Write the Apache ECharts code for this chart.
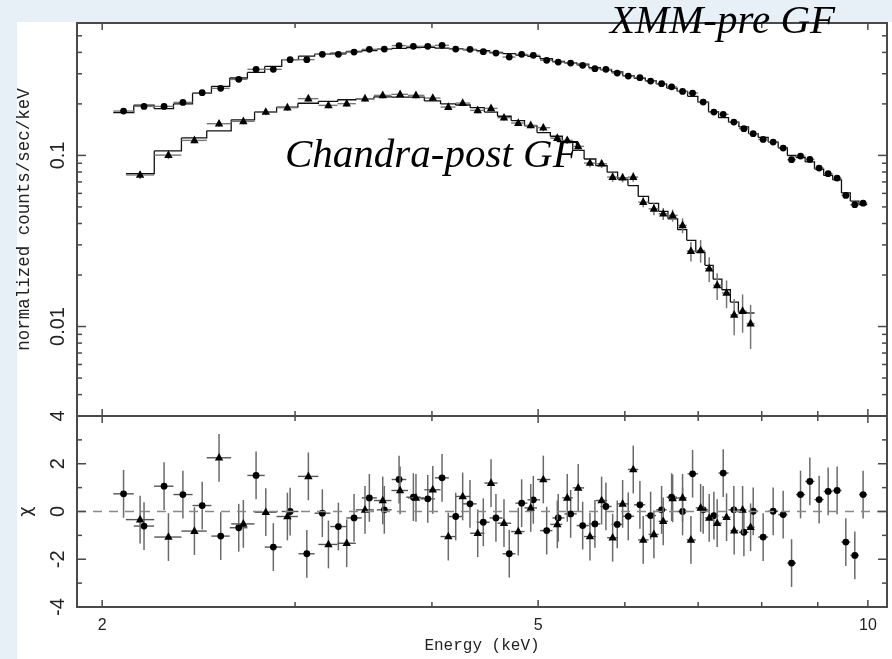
<!DOCTYPE html>
<html><head><meta charset="utf-8">
<script src="https://cdn.jsdelivr.net/npm/echarts@6/dist/echarts.min.js"></script>
<style>
html,body{margin:0;padding:0;background:#e8f0f7;width:892px;height:659px;overflow:hidden;}
#paper{position:absolute;left:17px;top:22px;width:875px;height:637px;background:#fff;}
#chart{position:absolute;left:0;top:0;width:892px;height:659px;}
</style></head><body>
<div id="paper"></div><div id="chart"></div>
<script>
// ---------- data ----------
const xmmEnergy = [2.092,2.184,2.278,2.370,2.468,2.566,2.665,2.764,2.866,2.969,
  3.075,3.177,3.286,3.396,3.507,3.619,3.733,3.847,3.965,4.086,
  4.205,4.333,4.456,4.576,4.706,4.830,4.950,5.091,5.216,5.354,
  5.491,5.634,5.766,5.905,6.043,6.193,6.334,6.482,6.620,6.774,
  6.918,7.074,7.235,7.378,7.545,7.706,7.858,8.024,8.195,8.369,
  8.518,8.680,8.852,9.026,9.199,9.374,9.547,9.729,9.900];
const xmmFlux = [0.1816,0.1934,0.1934,0.2041,0.2326,0.2465,0.2782,0.3184,0.3184,0.3628,
  0.3628,0.3896,0.3896,0.4019,0.4168,0.4184,0.4381,0.4340,0.4340,0.4398,
  0.4184,0.4168,0.4040,0.3965,0.3757,0.3896,0.3844,0.3594,0.3512,0.3465,
  0.3360,0.3214,0.3184,0.3029,0.2909,0.2847,0.2719,0.2626,0.2515,0.2367,
  0.2314,0.2050,0.1792,0.1737,0.1566,0.1433,0.1339,0.1240,0.1196,0.1103,
  0.0944,0.0991,0.0948,0.0843,0.0782,0.0737,0.0584,0.0515,0.0526];
const xmmFluxErr = [0.0049,0.0052,0.0052,0.0055,0.0063,0.0067,0.0075,0.0086,0.0086,0.0098,
  0.0098,0.0105,0.0105,0.0109,0.0113,0.0113,0.0118,0.0117,0.0117,0.0119,
  0.0113,0.0113,0.0109,0.0107,0.0101,0.0105,0.0104,0.0097,0.0095,0.0094,
  0.0091,0.0087,0.0086,0.0082,0.0079,0.0077,0.0073,0.0071,0.0068,0.0064,
  0.0062,0.0055,0.0048,0.0047,0.0042,0.0039,0.0036,0.0033,0.0032,0.0030,
  0.0028,0.0029,0.0028,0.0025,0.0024,0.0023,0.0019,0.0018,0.0018];
const xmmModel = [0.1780,0.1966,0.1879,0.2002,0.2310,0.2534,0.2833,0.3054,0.3312,0.3628,
  0.3801,0.3903,0.3962,0.4048,0.4104,0.4176,0.4222,0.4270,0.4278,0.4231,
  0.4208,0.4132,0.4089,0.3994,0.3937,0.3859,0.3793,0.3672,0.3538,0.3474,
  0.3414,0.3259,0.3166,0.3073,0.2925,0.2825,0.2731,0.2621,0.2474,0.2367,
  0.2215,0.2046,0.1800,0.1661,0.1563,0.1467,0.1339,0.1276,0.1196,0.1107,
  0.0999,0.0972,0.0916,0.0832,0.0764,0.0720,0.0604,0.0541,0.0516];
const xmmChi = [0.74,-0.61,1.06,0.71,0.25,-1.03,-0.68,1.51,-1.49,0.00,
  -1.77,-0.07,-0.63,-0.27,0.57,0.07,1.34,0.60,0.53,1.41,
  -0.21,0.32,-0.45,-0.27,-1.77,0.35,0.49,-0.80,-0.27,-0.10,
  -0.59,-0.52,0.21,-0.54,-0.20,0.28,-0.17,0.07,0.60,0.00,
  1.58,0.07,-0.17,1.61,0.07,-0.87,0.01,-1.07,0.01,-0.13,
  -2.16,0.71,1.26,0.50,0.84,0.88,-1.28,-1.84,0.71];

const chandraEnergy = [2.166,2.299,2.428,2.557,2.691,2.821,2.952,3.085,3.218,3.344,
  3.475,3.607,3.741,3.868,4.007,4.140,4.267,4.404,4.529,4.654,
  4.796,4.923,5.055,5.206,5.316,5.440,5.576,5.714,5.848,5.972,
  6.107,6.236,6.378,6.504,6.634,6.774,6.894,7.036,7.164,7.285,
  7.430,7.550,7.685,7.815];
const chandraFlux = [0.0769,0.1004,0.1224,0.1532,0.1581,0.1792,0.1901,0.2146,0.1961,0.2006,
  0.2146,0.2243,0.2274,0.2243,0.2163,0.1916,0.2022,0.1833,0.1883,0.1661,
  0.1545,0.1498,0.1452,0.1262,0.1224,0.1129,0.0902,0.0894,0.0747,0.0741,
  0.0747,0.0533,0.0487,0.0456,0.0446,0.0390,0.0276,0.0278,0.0218,0.0174,
  0.0157,0.0117,0.0123,0.0104];
const chandraFluxErr = [0.0042,0.0054,0.0050,0.0062,0.0064,0.0073,0.0077,0.0087,0.0080,0.0082,
  0.0087,0.0091,0.0093,0.0091,0.0088,0.0078,0.0082,0.0075,0.0077,0.0068,
  0.0063,0.0061,0.0069,0.0060,0.0058,0.0061,0.0049,0.0049,0.0046,0.0045,
  0.0046,0.0036,0.0040,0.0037,0.0036,0.0039,0.0036,0.0042,0.0036,0.0031,
  0.0029,0.0028,0.0031,0.0030];
const chandraModel = [0.0783,0.1062,0.1265,0.1392,0.1614,0.1794,0.1917,0.2018,0.2071,0.2115,
  0.2140,0.2201,0.2192,0.2191,0.2083,0.1998,0.1970,0.1901,0.1791,0.1694,
  0.1598,0.1489,0.1360,0.1294,0.1191,0.1069,0.0953,0.0871,0.0798,0.0727,
  0.0666,0.0576,0.0525,0.0471,0.0426,0.0368,0.0319,0.0272,0.0228,0.0189,
  0.0164,0.0139,0.0121,0.0120];
const chandraChi = [-0.34,-1.07,-0.82,2.25,-0.52,-0.03,-0.21,1.47,-1.38,-1.33,
  0.07,0.46,0.88,0.57,0.91,-1.05,0.63,-0.91,1.19,-0.49,
  -0.84,0.15,1.34,-0.54,0.57,0.99,-1.05,0.46,-1.10,0.32,
  1.76,-1.19,-0.96,-0.41,0.55,0.57,-1.19,0.15,-0.27,-0.49,
  -0.24,-0.80,0.07,-0.66];

const energyTickLabels = [2, 5, 10];
const energyMinorTicks = [3, 4, 6, 7, 8, 9];
const fluxTickLabels = [0.01, 0.1];
const fluxMinorTicks = [0.004,0.005,0.006,0.007,0.008,0.009,0.02,0.03,0.04,0.05,0.06,0.07,0.08,0.09,0.2,0.3,0.4,0.5];
const chiTickLabels = [-4, -2, 0, 2, 4];
const chiMinorTicks = [-3, -1, 1, 3];

// ---------- helpers ----------
function binEdges(c){
  const lo=[],hi=[];
  for(let i=0;i<c.length;i++){
    lo.push(i>0?Math.sqrt(c[i-1]*c[i]):c[0]/Math.sqrt(c[1]/c[0]));
    hi.push(i<c.length-1?Math.sqrt(c[i]*c[i+1]):c[i]*Math.sqrt(c[i]/c[i-1]));
  }
  return {lo,hi};
}
const xmmBins = binEdges(xmmEnergy);
const chaBins = binEdges(chandraEnergy);

const FRAME = '#4a4a4a';
function marker(kind,x,y){
  if(kind==='circle') return {type:'circle',shape:{cx:x,cy:y,r:3.4},style:{fill:'#000'}};
  return {type:'polygon',shape:{points:[[x,y-4.8],[x-4.2,y+2.8],[x+4.2,y+2.8]]},style:{fill:'#000'}};
}
function pointRenderer(kind,hColor,vColor){
  return function(params,api){
    const e=api.value(0),v=api.value(1),lo=api.value(2),hi=api.value(3),er=api.value(4);
    const c=api.coord([e,v]),l=api.coord([lo,v]),h=api.coord([hi,v]);
    const t=api.coord([e,v+er]),b=api.coord([e,v-er]);
    return {type:'group',children:[
      {type:'line',shape:{x1:l[0],y1:c[1],x2:h[0],y2:c[1]},style:{stroke:hColor,lineWidth:1.4}},
      {type:'line',shape:{x1:c[0],y1:t[1],x2:c[0],y2:b[1]},style:{stroke:vColor,lineWidth:1.5}},
      marker(kind,c[0],c[1])
    ]};
  };
}
function stepRenderer(params,api){
  const lo=api.value(0),hi=api.value(1),m=api.value(2),mn=api.value(3);
  const a=api.coord([lo,m]),b=api.coord([hi,m]),d=api.coord([hi,mn]);
  return {type:'polyline',shape:{points:[a,b,d]},style:{stroke:'#111',lineWidth:1.3,fill:null}};
}
function xTickRenderer(len,refY){
  return function(params,api){
    const cs=params.coordSys;
    const x=api.coord([api.value(0),refY])[0];
    const top=cs.y,bot=cs.y+cs.height;
    return {type:'group',children:[
      {type:'line',shape:{x1:x,y1:bot,x2:x,y2:bot-len},style:{stroke:FRAME,lineWidth:1.5}},
      {type:'line',shape:{x1:x,y1:top,x2:x,y2:top+len},style:{stroke:FRAME,lineWidth:1.5}}
    ]};
  };
}
function yTickRenderer(len,refX){
  return function(params,api){
    const cs=params.coordSys;
    const y=api.coord([refX,api.value(1)])[1];
    const left=cs.x,right=cs.x+cs.width;
    return {type:'group',children:[
      {type:'line',shape:{x1:left,y1:y,x2:left+len,y2:y},style:{stroke:FRAME,lineWidth:1.5}},
      {type:'line',shape:{x1:right,y1:y,x2:right-len,y2:y},style:{stroke:FRAME,lineWidth:1.5}}
    ]};
  };
}
function tickSeries(grid,arr,isX,len,ref){
  return {type:'custom',xAxisIndex:grid,yAxisIndex:grid,silent:true,z:5,
    data:arr.map(v=>isX?[v,ref]:[ref,v]),
    renderItem:isX?xTickRenderer(len,ref):yTickRenderer(len,ref)};
}

const xmmTop = xmmEnergy.map((e,i)=>[e,xmmFlux[i],xmmBins.lo[i],xmmBins.hi[i],xmmFluxErr[i]]);
const chaTop = chandraEnergy.map((e,i)=>[e,chandraFlux[i],chaBins.lo[i],chaBins.hi[i],chandraFluxErr[i]]);
const xmmStep = xmmEnergy.map((e,i)=>[xmmBins.lo[i],xmmBins.hi[i],xmmModel[i],i<xmmModel.length-1?xmmModel[i+1]:xmmModel[i]]);
const chaStep = chandraEnergy.map((e,i)=>[chaBins.lo[i],chaBins.hi[i],chandraModel[i],i<chandraModel.length-1?chandraModel[i+1]:chandraModel[i]]);
const xmmRes = xmmEnergy.map((e,i)=>[e,xmmChi[i],xmmBins.lo[i],xmmBins.hi[i],1]);
const chaRes = chandraEnergy.map((e,i)=>[e,chandraChi[i],chaBins.lo[i],chaBins.hi[i],1]);

const X_MIN=1.897, X_MAX=10.41;
const labelFmt = v => String(+(+v).toPrecision(3));

const chart = echarts.init(document.getElementById('chart'), null, {renderer:'canvas'});
chart.setOption({
  animation:false,
  backgroundColor:'transparent',
  grid:[
    {left:77,top:23,width:810,height:393,show:true,borderColor:FRAME,borderWidth:2,backgroundColor:'transparent'},
    {left:77,top:416,width:810,height:191,show:true,borderColor:FRAME,borderWidth:2,backgroundColor:'transparent'}
  ],
  xAxis:[
    {gridIndex:0,type:'log',min:X_MIN,max:X_MAX,axisLine:{show:false},axisTick:{show:false},axisLabel:{show:false},splitLine:{show:false}},
    {gridIndex:1,type:'log',min:X_MIN,max:X_MAX,axisLine:{show:false},axisTick:{show:false},splitLine:{show:false},
      axisLabel:{customValues:energyTickLabels,formatter:labelFmt,fontFamily:'Liberation Sans',fontSize:16,color:'#222',margin:11},
      name:'Energy (keV)',nameLocation:'middle',nameGap:31,
      nameTextStyle:{fontFamily:'Liberation Mono',fontSize:16,color:'#222'}}
  ],
  yAxis:[
    {gridIndex:0,type:'log',min:0.003,max:0.594,axisLine:{show:false},axisTick:{show:false},splitLine:{show:false},
      axisLabel:{customValues:fluxTickLabels,formatter:labelFmt,rotate:90,fontFamily:'Liberation Sans',fontSize:20,color:'#222',margin:9},
      name:'normalized counts/sec/keV',nameLocation:'middle',nameRotate:90,nameGap:44,
      nameTextStyle:{fontFamily:'Liberation Mono',fontSize:17.5,color:'#222'}},
    {gridIndex:1,type:'value',min:-4,max:4,axisLine:{show:false},axisTick:{show:false},splitLine:{show:false},
      axisLabel:{customValues:chiTickLabels,rotate:90,fontFamily:'Liberation Sans',fontSize:20,color:'#222',margin:9},
      name:'χ',nameLocation:'middle',nameRotate:90,nameGap:42,
      nameTextStyle:{fontFamily:'DejaVu Sans',fontSize:18,color:'#222'}}
  ],
  graphic:[
    {type:'text',x:610,y:22,z:50,style:{text:'XMM-pre GF',font:'italic 41px "Liberation Serif"',fill:'#000',verticalAlign:'middle'}},
    {type:'text',x:285,y:156,z:50,style:{text:'Chandra-post GF',font:'italic 41px "Liberation Serif"',fill:'#000',verticalAlign:'middle'}}
  ],
  series:[
    tickSeries(0,energyTickLabels,true,7,0.1),
    tickSeries(0,energyMinorTicks,true,5,0.1),
    tickSeries(0,fluxTickLabels,false,9,5),
    tickSeries(0,fluxMinorTicks,false,5,5),
    tickSeries(1,energyTickLabels,true,7,0),
    tickSeries(1,energyMinorTicks,true,5,0),
    tickSeries(1,[-2,0,2],false,9,5),
    tickSeries(1,chiMinorTicks,false,5,5),
    {type:'custom',name:'XMM model',xAxisIndex:0,yAxisIndex:0,silent:true,z:3,data:xmmStep,renderItem:stepRenderer,encode:{x:[0,1],y:[2,3]}},
    {type:'custom',name:'Chandra model',xAxisIndex:0,yAxisIndex:0,silent:true,z:3,data:chaStep,renderItem:stepRenderer,encode:{x:[0,1],y:[2,3]}},
    {type:'custom',name:'XMM-pre GF',xAxisIndex:0,yAxisIndex:0,silent:true,z:4,data:xmmTop,renderItem:pointRenderer('circle','#777','#777'),encode:{x:0,y:1}},
    {type:'custom',name:'Chandra-post GF',xAxisIndex:0,yAxisIndex:0,silent:true,z:4,data:chaTop,renderItem:pointRenderer('triangle','#777','#777'),encode:{x:0,y:1}},
    {type:'custom',name:'XMM chi',xAxisIndex:1,yAxisIndex:1,silent:true,z:4,data:xmmRes,renderItem:pointRenderer('circle','#555','#6a6a6a'),encode:{x:0,y:1},
      markLine:{silent:true,symbol:'none',label:{show:false},lineStyle:{type:[9,7],color:'#888',width:1.4},data:[{yAxis:0}]}},
    {type:'custom',name:'Chandra chi',xAxisIndex:1,yAxisIndex:1,silent:true,z:4,data:chaRes,renderItem:pointRenderer('triangle','#555','#6a6a6a'),encode:{x:0,y:1}}
  ]
});
</script>
</body></html>
